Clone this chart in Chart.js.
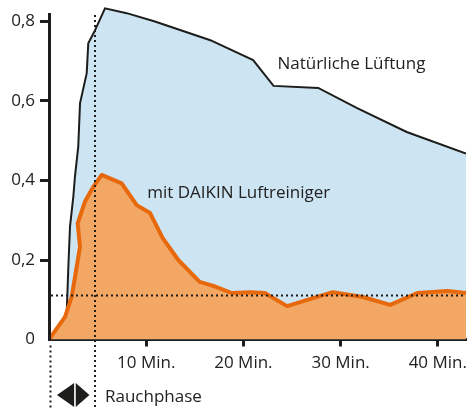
<!DOCTYPE html>
<html>
<head>
<meta charset="utf-8">
<script src="https://cdn.jsdelivr.net/npm/chart.js@4"></script>
<style>
  html, body { margin: 0; padding: 0; background: #fff; }
  #wrap { width: 468px; height: 408px; }
</style>
</head>
<body>
<div id="wrap"><canvas id="grafico" width="468" height="408"></canvas></div>
<script>
// Minuten / Konzentration
const natuerlichX = [0, 1.5, 1.82, 1.99, 2.16, 2.5, 2.67, 3.01, 3.19, 3.88, 4.04, 4.66, 5.76, 7.99, 10.9, 16.6, 21.0, 23.1, 27.7, 31.7, 36.8, 42.9];
const natuerlichY = [0, 0.05, 0.066, 0.183, 0.284, 0.359, 0.41, 0.485, 0.594, 0.67, 0.745, 0.774, 0.833, 0.821, 0.80, 0.753, 0.703, 0.638, 0.633, 0.582, 0.522, 0.468];

const daikinX = [0, 1.65, 2.34, 3.19, 2.95, 3.7, 4.56, 5.42, 7.48, 9.02, 10.4, 11.7, 13.3, 15.5, 16.9, 18.8, 20.7, 22.2, 24.5, 26.9, 29.2, 32.3, 35.1, 37.9, 41.0, 42.9];
const daikinY = [0, 0.057, 0.108, 0.233, 0.292, 0.347, 0.384, 0.414, 0.393, 0.338, 0.318, 0.255, 0.20, 0.145, 0.135, 0.117, 0.119, 0.117, 0.084, 0.102, 0.119, 0.107, 0.087, 0.117, 0.122, 0.117];

const xTicks = [10, 20, 30, 40];
const yTicks = [0, 0.2, 0.4, 0.6, 0.8];
const rauchphase = [0, 4.7];
const schwelle = 0.112;

const schrift = "'Open Sans', 'Noto Sans', sans-serif";
const schwarz = '#1d1d1b';

function pontos(xs, ys) {
    return xs.map((x, i) => ({ x: x, y: ys[i] }));
}

const extras = {
    id: 'extras',
    afterDatasetsDraw(chart) {
        const ctx = chart.ctx;
        const xs = chart.scales.x;
        const ys = chart.scales.y;
        const area = chart.chartArea;
        ctx.save();

        // y-Achse
        ctx.strokeStyle = schwarz;
        ctx.lineWidth = 3;
        ctx.beginPath();
        ctx.moveTo(area.left + 0.5, 13);
        ctx.lineTo(area.left + 0.5, area.bottom + 1.5);
        ctx.stroke();

        // gepunktete Linien
        ctx.lineWidth = 2;
        ctx.setLineDash([2, 3]);
        let yb = Math.round(ys.getPixelForValue(schwelle)) + 0.5;
        ctx.beginPath();
        ctx.moveTo(area.left + 2, yb);
        ctx.lineTo(area.right, yb);
        ctx.stroke();

        let x0 = Math.round(xs.getPixelForValue(rauchphase[0])) + 1.5;
        ctx.beginPath();
        ctx.moveTo(x0, area.bottom + 6);
        ctx.lineTo(x0, 408);
        ctx.stroke();

        let x1 = Math.round(xs.getPixelForValue(rauchphase[1]));
        ctx.beginPath();
        ctx.moveTo(x1, 15);
        ctx.lineTo(x1, 408);
        ctx.stroke();
        ctx.setLineDash([]);

        // Pfeile
        let ym = 395;
        let meio = (x0 + x1) / 2 + 2.2;
        ctx.fillStyle = schwarz;
        ctx.beginPath();
        ctx.moveTo(meio - 18, ym);
        ctx.lineTo(meio - 0.8, ym - 12);
        ctx.lineTo(meio - 0.8, ym + 12);
        ctx.closePath();
        ctx.fill();
        ctx.beginPath();
        ctx.moveTo(meio + 14.5, ym);
        ctx.lineTo(meio + 0.8, ym - 12);
        ctx.lineTo(meio + 0.8, ym + 12);
        ctx.closePath();
        ctx.fill();

        // Texte
        ctx.fillStyle = '#222';
        ctx.font = '17px ' + schrift;
        ctx.textBaseline = 'middle';
        ctx.textAlign = 'left';
        ctx.fillText('Rauchphase', x1 + 10, 397);
        ctx.fillText('Natürliche Lüftung', xs.getPixelForValue(23.5), ys.getPixelForValue(0.693));
        ctx.fillText('mit DAIKIN Luftreiniger', xs.getPixelForValue(10.1), ys.getPixelForValue(0.369));
        ctx.restore();
    }
};

new Chart(document.getElementById('grafico').getContext('2d'), {
    type: 'line',
    data: {
        datasets: [{
            label: 'mit DAIKIN Luftreiniger',
            data: pontos(daikinX, daikinY),
            borderColor: '#e8680c',
            backgroundColor: '#f2a764',
            borderWidth: 4,
            fill: 'origin',
            pointRadius: 0,
            tension: 0,
            order: 1,
            borderJoinStyle: 'round'
        }, {
            label: 'Natürliche Lüftung',
            data: pontos(natuerlichX, natuerlichY),
            borderColor: schwarz,
            backgroundColor: '#cde4f2',
            borderWidth: 2,
            fill: 'origin',
            pointRadius: 0,
            tension: 0,
            order: 2
        }]
    },
    options: {
        responsive: false,
        animation: false,
        layout: { padding: { left: 0, right: 2, top: 5.6, bottom: 28.5 } },
        plugins: { legend: { display: false }, tooltip: { enabled: false } },
        scales: {
            x: {
                type: 'linear',
                min: 0,
                max: 42.9,
                afterFit: s => { s.height = 40; s.paddingLeft = 0; s.paddingRight = 0; },
                afterBuildTicks: s => { s.ticks = xTicks.map(v => ({ value: v })); },
                border: { display: true, width: 3, color: schwarz },
                grid: { drawOnChartArea: false, drawTicks: true, tickLength: 7, tickWidth: 3, tickColor: schwarz },
                ticks: {
                    color: '#222',
                    padding: 6,
                    maxRotation: 0,
                    font: { family: schrift, size: 17 },
                    callback: v => v + ' Min.'
                }
            },
            y: {
                min: 0,
                max: 0.84,
                afterFit: s => { s.width = 49; s.paddingTop = 0; s.paddingBottom = 0; },
                afterBuildTicks: s => { s.ticks = yTicks.map(v => ({ value: v })); },
                border: { display: false },
                grid: {
                    drawOnChartArea: false,
                    drawTicks: true,
                    tickLength: 9,
                    tickWidth: 3,
                    tickColor: ctx => ctx.tick && ctx.tick.value === 0 ? 'rgba(0,0,0,0)' : schwarz
                },
                ticks: {
                    color: '#222',
                    padding: 5,
                    font: { family: schrift, size: 17 },
                    callback: v => v === 0 ? '0' : v.toFixed(1).replace('.', ',')
                }
            }
        }
    },
    plugins: [extras]
});
</script>
</body>
</html>
